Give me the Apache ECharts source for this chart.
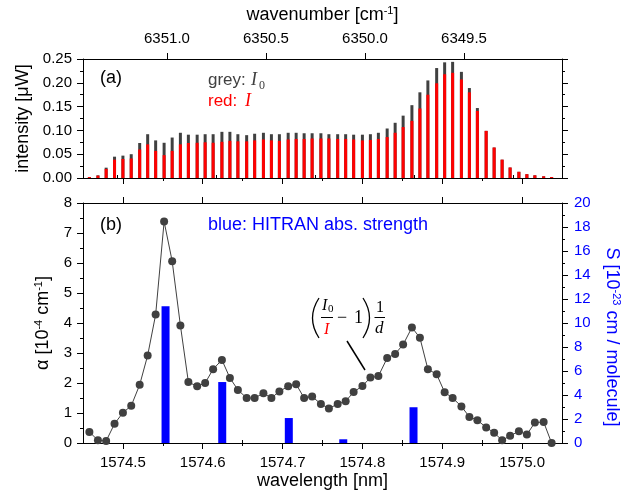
<!DOCTYPE html>
<html lang="en">
<head>
<meta charset="UTF-8">
<title>absorption spectrum</title>
<script src="https://cdn.jsdelivr.net/npm/echarts@6/dist/echarts.min.js"></script>
<style>html,body{margin:0;padding:0;background:#fff;}</style>
</head>
<body>
<div id="main" style="width:642px;height:494px;"></div>
<script type="text/javascript">
// measured wavelengths [nm] of each laser step
var wavelength = [1574.458, 1574.4687, 1574.479, 1574.4895, 1574.500, 1574.5104, 1574.521, 1574.531, 1574.541, 1574.5516,
    1574.5617, 1574.572, 1574.582, 1574.593, 1574.603, 1574.613, 1574.624, 1574.634, 1574.644, 1574.655,
    1574.665, 1574.676, 1574.686, 1574.696, 1574.707, 1574.717, 1574.727, 1574.737, 1574.748, 1574.758,
    1574.769, 1574.779, 1574.789, 1574.800, 1574.810, 1574.820, 1574.831, 1574.841, 1574.851, 1574.862,
    1574.872, 1574.882, 1574.893, 1574.903, 1574.913, 1574.924, 1574.934, 1574.944, 1574.955, 1574.965,
    1574.975, 1574.985, 1574.996, 1575.006, 1575.016, 1575.027, 1575.037];
// grey: I0 [uW]
var intensityI0 = [0.002, 0.0056, 0.0217, 0.0448, 0.047, 0.050, 0.0735, 0.092, 0.079, 0.074,
    0.085, 0.095, 0.091, 0.091, 0.092, 0.092, 0.097, 0.097, 0.092, 0.090,
    0.093, 0.095, 0.092, 0.092, 0.095, 0.095, 0.094, 0.094, 0.094, 0.092,
    0.092, 0.092, 0.091, 0.091, 0.092, 0.095, 0.104, 0.116, 0.131, 0.153,
    0.180, 0.205, 0.231, 0.243, 0.244, 0.223, 0.189, 0.147, 0.099, 0.064,
    0.0385, 0.022, 0.013, 0.008, 0.0056, 0.0035, 0.002];
// red: I [uW]
var intensityI = [0.002, 0.005, 0.019, 0.0385, 0.040, 0.041, 0.060, 0.0707, 0.057, 0.048,
    0.057, 0.0707, 0.0735, 0.074, 0.075, 0.074, 0.076, 0.078, 0.077, 0.077,
    0.079, 0.081, 0.079, 0.078, 0.081, 0.082, 0.082, 0.083, 0.083, 0.083,
    0.082, 0.082, 0.081, 0.079, 0.080, 0.082, 0.086, 0.095, 0.107, 0.120,
    0.146, 0.175, 0.199, 0.218, 0.221, 0.207, 0.180, 0.141, 0.099, 0.064,
    0.0385, 0.022, 0.013, 0.008, 0.0056, 0.0035, 0.002];
// alpha [1e-4 cm-1]
var alpha = [0.37, 0.09, 0.07, 0.64, 1.01, 1.24, 1.94, 2.92, 4.28, 7.38,
    6.06, 3.92, 2.03, 1.89, 2.00, 2.46, 2.77, 2.17, 1.77, 1.50,
    1.50, 1.66, 1.50, 1.72, 1.89, 1.96, 1.50, 1.55, 1.30, 1.15,
    1.30, 1.39, 1.70, 1.90, 2.18, 2.23, 2.83, 2.97, 3.28, 3.85,
    3.51, 2.46, 2.29, 1.69, 1.50, 1.22, 0.87, 0.76, 0.52, 0.34,
    0.09, 0.24, 0.39, 0.28, 0.68, 0.70, 0.0];
// HITRAN lines
var hitranPos = [1574.5534, 1574.6244, 1574.7078, 1574.776, 1574.864];
var hitranS = [11.4, 5.08, 2.08, 0.31, 2.98];
// ticks
var wlMajor = [1574.5, 1574.6, 1574.7, 1574.8, 1574.9, 1575.0];
var wlMinor = [1574.55, 1574.65, 1574.75, 1574.85, 1574.95];
var wnMajor = [6349.5, 6350.0, 6350.5, 6351.0];
var wnMinor = [6349.25, 6349.75, 6350.25, 6350.75, 6351.25];

var font = '"Liberation Sans", Arial, sans-serif';
var serif = '"Liberation Serif", "DejaVu Serif", serif';
var wlMin = 1574.45, wlMax = 1575.05;
var wnMin = 6349.005, wnMax = 6351.424;

function pairs(xs, ys) {
    return xs.map(function (x, i) { return [x, ys[i]]; });
}
var blackLine = {show: true, onZero: false, lineStyle: {color: '#000', width: 1}};
var supStyle = {fontSize: 11, verticalAlign: 'top', fontFamily: font, lineHeight: 20};

function xAx(grid, pos, min, max, ticks, len, extra) {
    var a = {
        type: 'value', gridIndex: grid, position: pos, min: min, max: max,
        splitLine: {show: false},
        axisLine: len > 4 ? blackLine : {show: false},
        axisTick: {show: true, inside: false, length: len, customValues: ticks, lineStyle: {color: '#000', width: 1}},
        axisLabel: {show: false}
    };
    for (var k in extra) a[k] = extra[k];
    return a;
}

var myChart = echarts.init(document.getElementById('main'));
myChart.setOption({
    animation: false,
    backgroundColor: '#fff',
    grid: [
        {left: 83, right: 80, top: 59, height: 119, containLabel: false, outerBoundsMode: 'none'},
        {left: 83, right: 80, top: 203, height: 240, containLabel: false, outerBoundsMode: 'none'}
    ],
    xAxis: [
        xAx(0, 'bottom', wlMin, wlMax, wlMajor, 6, {}),
        xAx(0, 'bottom', wlMin, wlMax, wlMinor, 3, {}),
        xAx(0, 'top', wnMin, wnMax, wnMajor, 6, {
            inverse: true,
            axisLabel: {show: true, customValues: wnMajor, margin: 13, fontFamily: font, fontSize: 15, color: '#000',
                formatter: function (v) { return v.toFixed(1); }},
            name: 'wavenumber [cm{sup|-1}]', nameLocation: 'middle', nameGap: 34,
            nameTextStyle: {fontFamily: font, fontSize: 18, color: '#000', rich: {sup: supStyle}}
        }),
        xAx(0, 'top', wnMin, wnMax, wnMinor, 3, {inverse: true}),
        xAx(1, 'bottom', wlMin, wlMax, wlMajor, 6, {
            axisLabel: {show: true, customValues: wlMajor, margin: 12, fontFamily: font, fontSize: 15, color: '#000',
                formatter: function (v) { return v.toFixed(1); }},
            name: 'wavelength [nm]', nameLocation: 'middle', nameGap: 29,
            nameTextStyle: {fontFamily: font, fontSize: 18, color: '#000'}
        }),
        xAx(1, 'bottom', wlMin, wlMax, wlMinor, 3, {}),
        xAx(1, 'top', wlMin, wlMax, wlMajor, 6, {}),
        xAx(1, 'top', wlMin, wlMax, wlMinor, 3, {})
    ],
    yAxis: [
        {
            type: 'value', gridIndex: 0, position: 'left', min: 0, max: 0.25, interval: 0.05,
            splitLine: {show: false}, axisLine: blackLine,
            axisTick: {show: true, inside: false, length: 6, lineStyle: {color: '#000'}},
            minorTick: {show: true, splitNumber: 2, length: 3, lineStyle: {color: '#000'}},
            axisLabel: {margin: 11, fontFamily: font, fontSize: 15, color: '#000',
                formatter: function (v) { return v.toFixed(2); }},
            name: 'intensity [μW]', nameLocation: 'middle', nameGap: 51, nameMoveOverlap: false,
            nameTextStyle: {fontFamily: font, fontSize: 18, color: '#000'}
        },
        {
            type: 'value', gridIndex: 0, position: 'right', min: 0, max: 0.25, interval: 0.05,
            splitLine: {show: false}, axisLine: blackLine,
            axisTick: {show: true, inside: false, length: 6, lineStyle: {color: '#000'}},
            minorTick: {show: true, splitNumber: 2, length: 3, lineStyle: {color: '#000'}},
            axisLabel: {show: false}
        },
        {
            type: 'value', gridIndex: 1, position: 'left', min: 0, max: 8, interval: 1,
            splitLine: {show: false}, axisLine: blackLine,
            axisTick: {show: true, inside: false, length: 6, lineStyle: {color: '#000'}},
            minorTick: {show: true, splitNumber: 2, length: 3, lineStyle: {color: '#000'}},
            axisLabel: {margin: 11, fontFamily: font, fontSize: 15, color: '#000'},
            name: 'α [10{sup|-4} cm{sup|-1}]', nameLocation: 'middle', nameGap: 30, nameMoveOverlap: false,
            nameTextStyle: {fontFamily: font, fontSize: 18, color: '#000', rich: {sup: supStyle}}
        },
        {
            type: 'value', gridIndex: 1, position: 'right', min: 0, max: 20, interval: 2,
            splitLine: {show: false}, axisLine: blackLine,
            axisTick: {show: true, inside: false, length: 6, lineStyle: {color: '#000'}},
            minorTick: {show: true, splitNumber: 2, length: 3, lineStyle: {color: '#000'}},
            axisLabel: {margin: 12, fontFamily: font, fontSize: 15, color: '#0000ff'},
            name: 'S [10{sup|-23} cm / molecule]', nameLocation: 'middle', nameGap: 40, nameRotate: -90,
            nameMoveOverlap: false,
            nameTextStyle: {fontFamily: font, fontSize: 18, color: '#0000ff', padding: [0, 0, 0, 28],
                rich: {sup: {fontSize: 11, verticalAlign: 'top', fontFamily: font, lineHeight: 20, color: '#0000ff'}}}
        }
    ],
    series: [
        {
            // grey and red bars sit on two copies of the same wavelength axis so they overlap exactly
            name: 'I0', type: 'bar', xAxisIndex: 0, yAxisIndex: 0, barWidth: 3,
            itemStyle: {color: '#404040'}, data: pairs(wavelength, intensityI0)
        },
        {
            name: 'I', type: 'bar', xAxisIndex: 1, yAxisIndex: 0, barWidth: 3, z: 3,
            itemStyle: {color: '#ff0000'}, data: pairs(wavelength, intensityI)
        },
        {
            name: 'HITRAN', type: 'bar', xAxisIndex: 4, yAxisIndex: 3, barWidth: 8,
            itemStyle: {color: '#0000ff'}, data: pairs(hitranPos, hitranS)
        },
        {
            name: 'alpha', type: 'line', xAxisIndex: 4, yAxisIndex: 2, z: 5,
            symbol: 'circle', symbolSize: 8, showAllSymbol: true,
            lineStyle: {color: '#404040', width: 1}, itemStyle: {color: '#404040'},
            data: pairs(wavelength, alpha)
        }
    ],
    graphic: [
        {type: 'text', x: 100, y: 78, style: {text: '(a)', font: '18px ' + font, fill: '#000', verticalAlign: 'middle'}},
        {type: 'text', x: 208, y: 80, style: {text: 'grey:', font: '17px ' + font, fill: '#404040', verticalAlign: 'middle'}},
        {type: 'text', x: 251, y: 80, style: {text: 'I', font: 'italic 18px ' + serif, fill: '#404040', verticalAlign: 'middle'}},
        {type: 'text', x: 259, y: 86, style: {text: '0', font: '12px ' + serif, fill: '#404040', verticalAlign: 'middle'}},
        {type: 'text', x: 208, y: 101, style: {text: 'red:', font: '17px ' + font, fill: '#ff0000', verticalAlign: 'middle'}},
        {type: 'text', x: 245, y: 101, style: {text: 'I', font: 'italic 18px ' + serif, fill: '#ff0000', verticalAlign: 'middle'}},
        {type: 'text', x: 100, y: 225, style: {text: '(b)', font: '18px ' + font, fill: '#000', verticalAlign: 'middle'}},
        {type: 'text', x: 208, y: 225, style: {text: 'blue: HITRAN abs. strength', font: '18px ' + font, fill: '#0000ff', verticalAlign: 'middle'}},
        // (I0/I - 1) 1/d
        {type: 'bezierCurve', shape: {x1: 319, y1: 298, cpx1: 306, cpy1: 318, x2: 319, y2: 338}, style: {stroke: '#000', lineWidth: 1.3, fill: null}},
        {type: 'text', x: 322, y: 306, style: {text: 'I', font: 'italic 16px ' + serif, fill: '#000', verticalAlign: 'middle'}},
        {type: 'text', x: 328, y: 309, style: {text: '0', font: '11px ' + serif, fill: '#000', verticalAlign: 'middle'}},
        {type: 'line', shape: {x1: 321, y1: 317.5, x2: 333, y2: 317.5}, style: {stroke: '#000', lineWidth: 1}},
        {type: 'text', x: 324, y: 330, style: {text: 'I', font: 'italic 16px ' + serif, fill: '#ff0000', verticalAlign: 'middle'}},
        {type: 'text', x: 337, y: 318, style: {text: '−', font: '18px ' + serif, fill: '#000', verticalAlign: 'middle'}},
        {type: 'text', x: 354, y: 318, style: {text: '1', font: '18px ' + serif, fill: '#000', verticalAlign: 'middle'}},
        {type: 'bezierCurve', shape: {x1: 363, y1: 298, cpx1: 376, cpy1: 318, x2: 363, y2: 338}, style: {stroke: '#000', lineWidth: 1.3, fill: null}},
        {type: 'text', x: 376, y: 308, style: {text: '1', font: '16px ' + serif, fill: '#000', verticalAlign: 'middle'}},
        {type: 'line', shape: {x1: 374.5, y1: 317.5, x2: 385, y2: 317.5}, style: {stroke: '#000', lineWidth: 1}},
        {type: 'text', x: 375, y: 329, style: {text: 'd', font: 'italic 17px ' + serif, fill: '#000', verticalAlign: 'middle'}},
        {type: 'line', shape: {x1: 347, y1: 341, x2: 365, y2: 370}, style: {stroke: '#000', lineWidth: 1.5}}
    ]
});
</script>
</body>
</html>
